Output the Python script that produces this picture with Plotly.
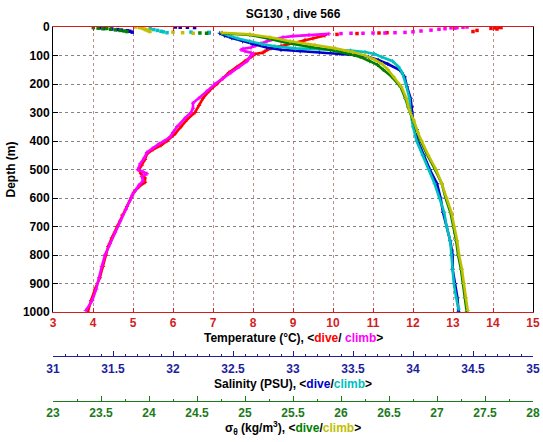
import plotly.graph_objects as go

# ---------------- data ----------------
# Temperature (deg C) - dive (red) and climb (magenta)
temp_dive_depth = [30, 40, 45, 55, 65, 75, 85, 90, 95, 105, 120, 140, 160, 180, 200, 225, 250, 275, 300, 325,
                   350, 375, 400, 415, 430, 445, 465, 485, 500, 515, 530, 545, 560, 580, 600, 630, 660, 700,
                   740, 770, 800, 840, 880, 920, 960, 1000]
temp_dive_val = [9.8, 9.5, 9.3, 9.0, 8.7, 8.45, 8.3, 8.25, 8.05, 7.95, 7.8, 7.6, 7.4, 7.25, 7.1, 6.9, 6.75, 6.65,
                 6.55, 6.35, 6.2, 6.05, 5.85, 5.7, 5.5, 5.35, 5.3, 5.22, 5.15, 5.2, 5.3, 5.3, 5.15, 5.02, 4.95,
                 4.85, 4.73, 4.6, 4.47, 4.38, 4.32, 4.25, 4.17, 4.05, 3.95, 3.87]
temp_dive_surf_depth = [1, 2, 3, 5, 7, 12, 16, 20, 21, 23, 26]
temp_dive_surf_val = [14.15, 14.2, 14.05, 13.95, 14.1, 13.6, 13.5, 11.35, 11.15, 10.6, 10.1]

temp_climb_depth = [24, 28, 32, 36, 42, 50, 58, 66, 72, 76, 80, 85, 90, 95, 100, 110, 120, 140, 160, 180, 200,
                    225, 250, 267, 285, 300, 320, 350, 370, 385, 400, 410, 425, 440, 460, 480, 500, 508, 515,
                    525, 540, 555, 570, 590, 610, 640, 680, 720, 760, 800, 840, 880, 920, 960, 995]
temp_climb_val = [9.9, 9.4, 9.0, 8.75, 8.55, 8.35, 8.2, 8.05, 7.95, 7.75, 7.7, 7.8, 7.95, 8.0, 7.95, 7.9, 7.85,
                  7.65, 7.45, 7.25, 7.05, 6.85, 6.65, 6.5, 6.5, 6.45, 6.3, 6.1, 6.0, 5.93, 5.78, 5.65, 5.5,
                  5.35, 5.28, 5.18, 5.12, 5.25, 5.35, 5.22, 5.25, 5.15, 5.08, 4.98, 4.92, 4.82, 4.68, 4.55,
                  4.42, 4.3, 4.22, 4.15, 4.08, 3.98, 3.82]
temp_climb_surf_depth = [0, 1, 2, 3, 4, 6, 8, 11, 14, 17, 19, 20, 21, 21, 22, 22, 23]
temp_climb_surf_val = [13.35, 13.25, 13.1, 12.95, 13.05, 12.8, 12.65, 12.45, 12.2, 12.0, 11.8, 11.55, 11.3,
                       11.0, 10.75, 10.45, 10.2]

# Salinity (PSU) - dive (blue) and climb (cyan)
sal_dive_depth = [22, 30, 39, 50, 60, 72, 80, 85, 89, 93, 98, 105, 116, 130, 151, 175, 210, 250, 280, 326, 360,
                  400, 450, 500, 550, 600, 650, 700, 750, 800, 850, 900, 950, 1000]
sal_dive_val = [32.39, 32.43, 32.49, 32.58, 32.66, 32.78, 32.9, 33.06, 33.22, 33.39, 33.51, 33.63, 33.71, 33.79,
                33.89, 33.93, 33.95, 33.98, 33.99, 34.0, 34.02, 34.04, 34.09, 34.14, 34.2, 34.23, 34.25, 34.28,
                34.31, 34.33, 34.33, 34.35, 34.37, 34.38]
sal_dive_surf_depth = [3, 5, 7, 9, 11, 13, 15, 18, 0, 1, 1, 2, 20]
sal_dive_surf_val = [31.39, 31.43, 31.49, 31.54, 31.57, 31.62, 31.64, 31.66, 32.02, 32.06, 32.12, 32.18, 32.3]

sal_climb_depth = [22, 30, 40, 50, 60, 68, 75, 80, 83, 88, 95, 105, 120, 140, 160, 200, 250, 300, 350, 400, 450,
                   500, 550, 600, 650, 700, 750, 800, 850, 900, 950, 990]
sal_climb_val = [32.41, 32.46, 32.54, 32.64, 32.74, 32.85, 33.02, 33.31, 33.48, 33.6, 33.68, 33.74, 33.83, 33.88,
                 33.91, 33.94, 33.97, 33.98, 34.0, 34.03, 34.08, 34.13, 34.18, 34.22, 34.26, 34.28, 34.31,
                 34.32, 34.33, 34.34, 34.36, 34.38]
sal_climb_surf_depth = [6, 9, 12, 15, 17, 20, 18, 19]
sal_climb_surf_val = [31.81, 31.84, 31.87, 31.9, 31.92, 31.95, 32.15, 32.3]

# Potential density sigma-theta (kg/m3) - dive (green) and climb (olive yellow)
sig_dive_depth = [22, 28, 40, 56, 70, 81, 95, 105, 120, 133, 150, 175, 210, 250, 281, 326, 360, 400, 450, 500,
                  550, 600, 650, 700, 750, 800, 850, 900, 950, 1000]
sig_dive_val = [24.76, 25.05, 25.24, 25.44, 25.68, 25.89, 26.09, 26.2, 26.3, 26.38, 26.44, 26.53, 26.62, 26.67,
                26.7, 26.75, 26.79, 26.83, 26.9, 26.98, 27.05, 27.09, 27.14, 27.17, 27.2, 27.22, 27.25,
                27.27, 27.29, 27.31]
sig_dive_surf_depth = [2, 4, 6, 5, 8, 10, 12, 14, 16, 21, 22]
sig_dive_surf_val = [23.42, 23.47, 23.52, 23.56, 23.6, 23.65, 23.7, 23.74, 23.77, 24.53, 24.6]

sig_climb_depth = [20, 26, 36, 50, 63, 75, 88, 100, 115, 130, 150, 175, 210, 250, 290, 330, 370, 400, 450, 500,
                   550, 600, 650, 700, 750, 800, 850, 900, 950, 995]
sig_climb_val = [24.76, 25.05, 25.26, 25.47, 25.73, 25.94, 26.12, 26.25, 26.35, 26.43, 26.49, 26.55, 26.63,
                 26.68, 26.71, 26.76, 26.8, 26.84, 26.91, 26.99, 27.05, 27.1, 27.15, 27.18, 27.21, 27.23,
                 27.26, 27.28, 27.3, 27.32]
sig_climb_surf_depth = [0, 2, 4, 7, 10, 13, 16, 18, 20, 22]
sig_climb_surf_val = [23.86, 23.9, 23.93, 23.95, 23.97, 23.99, 24.01, 24.25, 24.35, 24.46]

depth_ticks = [0, 100, 200, 300, 400, 500, 600, 700, 800, 900, 1000]

# ---------------- styling ----------------
C_RED = "#ff0000"
C_MAG = "#ff00ff"
C_BLUE = "#0000cc"
C_CYAN = "#00c0c0"
C_GREEN = "#008000"
C_YEL = "#c0c000"
AX_RED = "#d21e1e"
AX_BLUE = "#1e1e9c"
AX_GREEN = "#1a7a1a"
FONT = "Liberation Sans, Arial, sans-serif"
FS = 12

fig = go.Figure()


def add_profile(vals, depths, color, xaxis, width=2.6):
    fig.add_trace(go.Scatter(x=vals, y=depths, mode="lines+markers", xaxis=xaxis, yaxis="y",
                             line=dict(color=color, width=width),
                             marker=dict(color=color, size=3, symbol="cross-thin",
                                         line=dict(color=color, width=1)),
                             showlegend=False, hoverinfo="skip"))


def add_scatter(vals, depths, color, xaxis):
    fig.add_trace(go.Scatter(x=vals, y=depths, mode="markers", xaxis=xaxis, yaxis="y",
                             marker=dict(color=color, size=3.5, symbol="square"),
                             showlegend=False, hoverinfo="skip"))


add_profile(sal_dive_val, sal_dive_depth, C_BLUE, "x2")
add_scatter(sal_dive_surf_val, sal_dive_surf_depth, C_BLUE, "x2")
add_profile(sal_climb_val, sal_climb_depth, C_CYAN, "x2")
add_scatter(sal_climb_surf_val, sal_climb_surf_depth, C_CYAN, "x2")
add_profile(sig_dive_val, sig_dive_depth, C_GREEN, "x3")
add_scatter(sig_dive_surf_val, sig_dive_surf_depth, C_GREEN, "x3")
add_profile(sig_climb_val, sig_climb_depth, C_YEL, "x3")
add_scatter(sig_climb_surf_val, sig_climb_surf_depth, C_YEL, "x3")
add_profile(temp_dive_val, temp_dive_depth, C_RED, "x")
add_scatter(temp_dive_surf_val, temp_dive_surf_depth, C_RED, "x")
add_profile(temp_climb_val, temp_climb_depth, C_MAG, "x")
add_scatter(temp_climb_surf_val, temp_climb_surf_depth, C_MAG, "x")

W, H = 543, 442
ML, MT, MR, MB = 53, 27, 10, 10
PH = H - MT - MB


def ypos(p):
    return (H - MB - p) / PH


fig.update_layout(
    width=W, height=H,
    margin=dict(l=ML, r=MR, t=MT, b=MB, autoexpand=False),
    paper_bgcolor="white", plot_bgcolor="white",
    title=dict(text="SG130 , dive 566", x=0.5, xref="paper", xanchor="center",
               y=1 - 14 / H, yref="container", yanchor="middle",
               font=dict(family=FONT, size=FS, color="black", weight="bold")),
    xaxis=dict(range=[3, 15], dtick=1, tick0=3, domain=[0, 1], anchor="y",
               showgrid=True, gridcolor="rgba(185,120,120,0.85)", griddash="dot", gridwidth=1,
               zeroline=False, showline=True, linecolor=AX_RED, linewidth=1, mirror="ticks",
               ticks="inside", ticklen=4, tickcolor=AX_RED,
               tickfont=dict(family=FONT, size=FS, color=AX_RED, weight="bold"),
               ticklabelstandoff=0),
    xaxis2=dict(range=[31, 35], dtick=0.5, tick0=31, overlaying="x", anchor="free",
                position=ypos(356), side="bottom", showgrid=False, zeroline=False,
                showline=True, linecolor=AX_BLUE, linewidth=1,
                ticks="inside", ticklen=5, tickcolor=AX_BLUE,
                minor=dict(dtick=0.1, tick0=31, ticks="inside", ticklen=2.5, tickcolor=AX_BLUE, showgrid=False),
                tickfont=dict(family=FONT, size=FS, color=AX_BLUE, weight="bold"),
                ticklabelstandoff=2),
    xaxis3=dict(range=[23, 28], dtick=0.5, tick0=23, overlaying="x", anchor="free",
                position=ypos(401), side="bottom", showgrid=False, zeroline=False,
                showline=True, linecolor=AX_GREEN, linewidth=1,
                ticks="inside", ticklen=5, tickcolor=AX_GREEN,
                minor=dict(dtick=0.25, tick0=23, ticks="inside", ticklen=2.5, tickcolor=AX_GREEN, showgrid=False),
                tickfont=dict(family=FONT, size=FS, color=AX_GREEN, weight="bold"),
                ticklabelstandoff=1),
    yaxis=dict(range=[1000, 0], domain=[ypos(312), 1], tickvals=depth_ticks,
               showgrid=True, gridcolor="rgba(110,110,110,0.85)", griddash="dot", gridwidth=1,
               zeroline=False, showline=True, linecolor="black", linewidth=1, mirror="ticks",
               ticks="inside", ticklen=5, tickcolor="black",
               tickfont=dict(family=FONT, size=FS, color="black", weight="bold"),
               title=dict(text="Depth (m)", font=dict(family=FONT, size=FS, color="black", weight="bold"),
                          standoff=4)),
)

annots = [
    (ypos(337.5), "Temperature (°C), &lt;<span style='color:%s'>dive</span>/ "
                  "<span style='color:%s'>climb</span>&gt;" % (C_RED, C_MAG)),
    (ypos(384), "Salinity (PSU), &lt;<span style='color:%s'>dive</span>/"
                "<span style='color:%s'>climb</span>&gt;" % (C_BLUE, C_CYAN)),
    (ypos(427.5), "σ<sub>θ</sub> (kg/m<sup>3</sup>), &lt;<span style='color:%s'>dive</span>/"
                  "<span style='color:%s'>climb</span>&gt;" % (C_GREEN, C_YEL)),
]
for yy, txt in annots:
    fig.add_annotation(text=txt, x=0.5, xref="paper", y=yy, yref="paper", xanchor="center",
                       yanchor="middle", showarrow=False,
                       font=dict(family=FONT, size=FS, color="black", weight="bold"))

fig.write_html("out.html", config={"displayModeBar": False},
               post_script="document.body.style.margin='0';document.body.style.padding='0';"
                           "document.body.style.overflow='hidden';")
